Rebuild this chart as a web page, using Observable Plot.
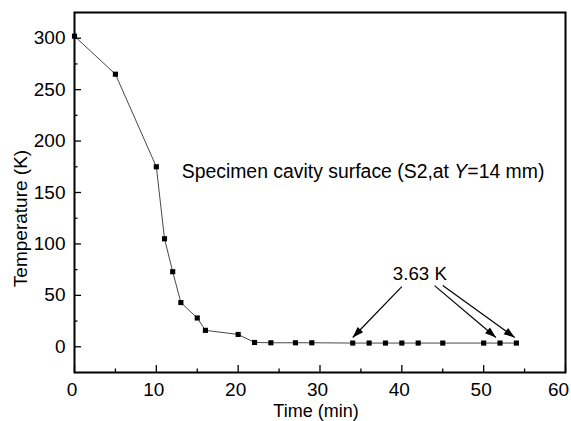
<!DOCTYPE html>
<html><head><meta charset="utf-8">
<script src="https://cdn.jsdelivr.net/npm/d3@7"></script>
<script src="https://cdn.jsdelivr.net/npm/@observablehq/plot@0.6"></script>
<style>body{margin:0;background:#fff}</style>
</head><body><div id="chart"></div>
<script>
// Data
const time = [0, 5, 10, 11, 12, 13, 15, 16, 20, 22, 24, 27, 29, 34, 36, 38, 40, 42, 45, 50, 52, 54];
const temperature = [302, 265, 175, 105, 73, 43, 28, 16, 12, 4.2, 3.9, 3.9, 3.9, 3.63, 3.63, 3.63, 3.63, 3.63, 3.63, 3.63, 3.63, 3.63];

const xMajorTicks = [0, 10, 20, 30, 40, 50, 60];
const xMinorTicks = [5, 15, 25, 35, 45, 55];
const yMajorTicks = [0, 50, 100, 150, 200, 250, 300];
const yMinorTicks = [25, 75, 125, 175, 225, 275];

const xLabel = "Time (min)";
const yLabel = "Temperature (K)";
const noteText = ["Specimen cavity surface (S2,at ", "Y", "=14 mm)"];
const noteX = [13.1];
const noteY = [170];
const valueLabel = ["3.63 K"];
const valueLabelX = [42.2];
const valueLabelY = [71];
const arrowFromX = [40.0, 44.0, 45.0];
const arrowFromY = [58.5, 59.5, 59.5];
const arrowToX = [34.0, 51.5, 53.8];
const arrowToY = [9, 9, 9];

const points = time.map((t, i) => ({t, T: temperature[i]}));
const arrows = arrowFromX.map((x, i) => ({x1: x, y1: arrowFromY[i], x2: arrowToX[i], y2: arrowToY[i]}));

const W = 571, H = 421, ML = 74, MR = 6, MT = 12, MB = 49;
const plotW = W - ML - MR, plotH = H - MT - MB;

const filledArrow = (color, context) => {
  const m = d3.create("svg:marker")
    .attr("viewBox", "-12 -5 12 10")
    .attr("markerWidth", 12).attr("markerHeight", 10)
    .attr("markerUnits", "userSpaceOnUse")
    .attr("orient", "auto")
    .attr("refX", 0).attr("refY", 0)
    .attr("overflow", "visible");
  m.append("path").attr("d", "M-11,-3.8L0,0L-11,3.8Z").attr("fill", "#000").attr("stroke", "none");
  return m.node();
};

const chart = Plot.plot({
  width: W,
  height: H,
  marginLeft: ML,
  marginRight: MR,
  marginTop: MT,
  marginBottom: MB,
  style: {fontFamily: "'Liberation Sans', Arial, sans-serif", fontSize: "18px", background: "#fff", color: "#000"},
  x: {domain: [0, 60]},
  y: {domain: [-25, 325]},
  marks: [
    Plot.tickX(xMajorTicks, {x: d => d, insetTop: plotH - 7, stroke: "#000", strokeWidth: 1.3}),
    Plot.tickX(xMinorTicks, {x: d => d, insetTop: plotH - 3.5, stroke: "#000", strokeWidth: 1.3}),
    Plot.tickY(yMajorTicks, {y: d => d, insetRight: plotW - 7, stroke: "#000", strokeWidth: 1.3}),
    Plot.tickY(yMinorTicks, {y: d => d, insetRight: plotW - 3.5, stroke: "#000", strokeWidth: 1.3}),
    Plot.axisX({ticks: xMajorTicks.slice(0, -1), tickSize: 0, tickPadding: 10, dx: -2.5, label: null, fontSize: 19}),
    Plot.axisX({ticks: xMajorTicks.slice(-1), tickSize: 0, tickPadding: 10, dx: -7, label: null, fontSize: 19}),
    Plot.axisY({ticks: yMajorTicks, tickSize: 0, tickPadding: 9, label: null, fontSize: 19}),
    Plot.frame({stroke: "#000", strokeWidth: 2}),
    Plot.line(points, {x: "t", y: "T", stroke: "#333", strokeWidth: 0.9}),
    Plot.dot(points, {x: "t", y: "T", symbol: "square", r: 2.9, fill: "#000", stroke: "none"}),
    Plot.link(arrows, {x1: "x1", y1: "y1", x2: "x2", y2: "y2", stroke: "#000", strokeWidth: 1.2, markerEnd: filledArrow}),
    Plot.text(noteX.map((x, i) => ({x, y: noteY[i]})), {x: "x", y: "y", text: () => noteText.join(""), textAnchor: "start", fontSize: 19.4, className: "note"}),
    Plot.text(valueLabelX.map((x, i) => ({x, y: valueLabelY[i], s: valueLabel[i]})), {x: "x", y: "y", text: "s", fontSize: 18.7}),
    Plot.text([xLabel], {text: d => d, frameAnchor: "bottom", textAnchor: "middle", lineAnchor: "middle", dy: 39, dx: -4, fontSize: 18}),
    Plot.text([yLabel], {text: d => d, frameAnchor: "left", textAnchor: "middle", lineAnchor: "middle", rotate: -90, dx: -54, dy: 26, fontSize: 19})
  ]
});

// italic Y in the note
d3.select(chart).selectAll("g.note text").each(function() {
  const t = d3.select(this);
  t.text(null);
  t.append("tspan").text(noteText[0]);
  t.append("tspan").attr("font-style", "italic").text(noteText[1]);
  t.append("tspan").text(noteText[2]);
});

document.getElementById("chart").append(chart);
</script>
</body></html>
